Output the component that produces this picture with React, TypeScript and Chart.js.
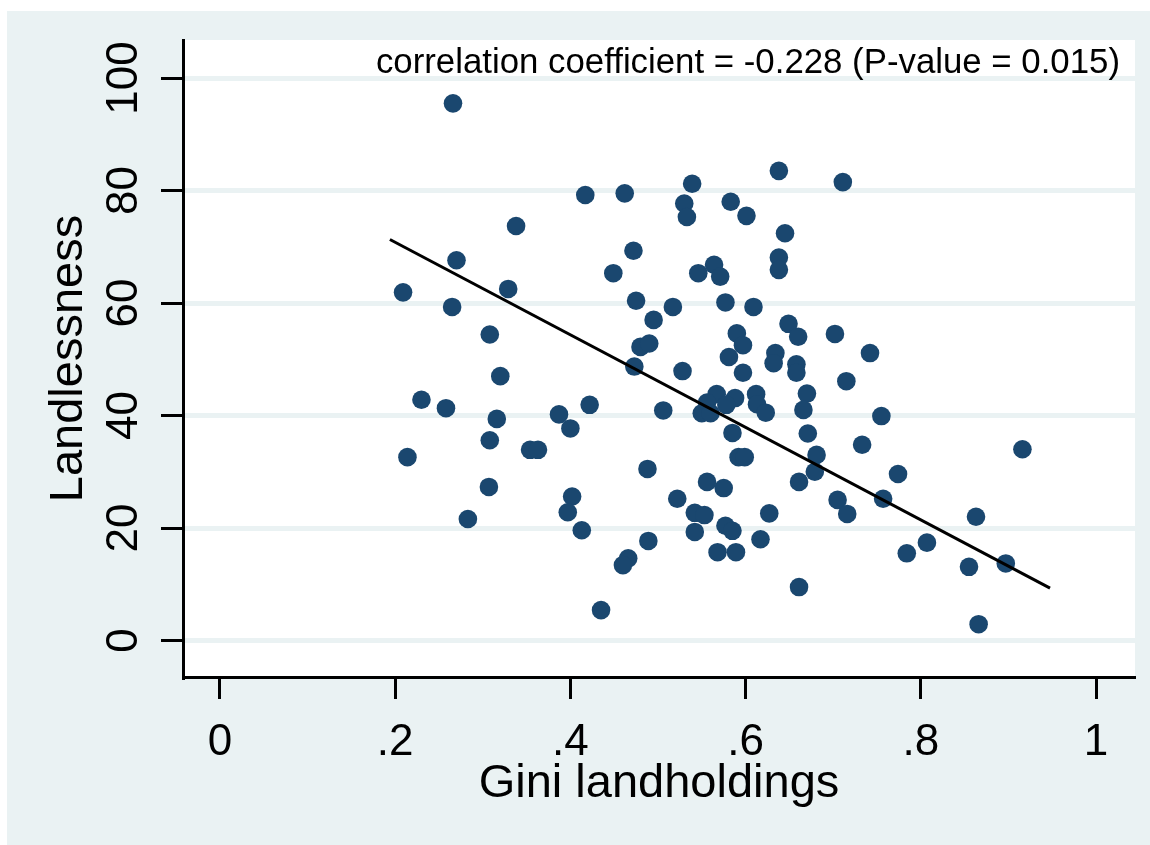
import React, { useEffect, useRef } from "react";
import { Chart, registerables } from "chart.js";

Chart.register(...registerables);

const giniX: number[] = [
  0.266, 0.338, 0.270, 0.209, 0.329, 0.265, 0.308, 0.320, 0.230, 0.258,
  0.316, 0.308, 0.214, 0.387, 0.400, 0.354, 0.363, 0.307, 0.283, 0.402,
  0.397, 0.413, 0.435, 0.417, 0.462, 0.539, 0.530, 0.533, 0.583, 0.601,
  0.638, 0.711, 0.645, 0.638, 0.638, 0.472, 0.449, 0.546, 0.564, 0.571,
  0.475, 0.517, 0.577, 0.609, 0.495, 0.590, 0.597, 0.649, 0.660, 0.702,
  0.742, 0.480, 0.490, 0.473, 0.581, 0.634, 0.632, 0.658, 0.658, 0.597,
  0.528, 0.715, 0.422, 0.506, 0.567, 0.556, 0.550, 0.560, 0.588, 0.578,
  0.612, 0.613, 0.623, 0.670, 0.666, 0.755, 0.585, 0.671, 0.733, 0.592,
  0.599, 0.681, 0.679, 0.774, 0.488, 0.661, 0.556, 0.575, 0.522, 0.705,
  0.716, 0.757, 0.542, 0.553, 0.627, 0.542, 0.577, 0.585, 0.489, 0.617,
  0.807, 0.784, 0.466, 0.460, 0.568, 0.589, 0.661, 0.916, 0.863, 0.855,
  0.897, 0.866,
];

const landlessY: number[] = [
  95.5, 73.7, 67.6, 61.9, 62.5, 59.3, 54.4, 47.0, 42.8, 41.3,
  39.4, 35.6, 32.6, 40.2, 37.7, 33.9, 33.9, 27.3, 21.6, 25.6,
  22.8, 19.6, 5.4, 79.2, 79.5, 81.2, 77.7, 75.3, 78.0, 75.5,
  83.5, 81.5, 72.4, 68.1, 65.9, 69.3, 65.3, 65.3, 66.8, 64.7,
  60.4, 59.3, 60.1, 59.3, 57.0, 54.6, 52.5, 56.3, 54.0, 54.5,
  51.1, 52.2, 52.8, 48.7, 50.4, 51.1, 49.3, 49.1, 47.6, 47.6,
  47.9, 46.1, 41.9, 40.9, 43.8, 42.3, 40.4, 40.4, 43.1, 41.9,
  43.8, 42.0, 40.5, 43.9, 41.0, 39.9, 36.9, 36.8, 34.8, 32.6,
  32.6, 33.0, 30.0, 29.6, 30.5, 28.2, 28.2, 27.1, 25.2, 25.0,
  22.5, 25.2, 22.7, 22.3, 22.6, 19.3, 20.4, 19.5, 17.7, 18.0,
  17.4, 15.5, 14.6, 13.4, 15.7, 15.7, 9.5, 34.0, 22.0, 13.1,
  13.7, 2.9,
];

// fitted line end points
const fitX: number[] = [0.194, 0.9475];
const fitY: number[] = [71.3, 9.3];

const xTickValues: number[] = [0, 0.2, 0.4, 0.6, 0.8, 1];
const xTickLabels: string[] = ["0", ".2", ".4", ".6", ".8", "1"];
const yTickValues: number[] = [0, 20, 40, 60, 80, 100];
const yTickLabels: string[] = ["0", "20", "40", "60", "80", "100"];

const annotationText = "correlation coefficient = -0.228 (P-value = 0.015)";
const xTitle = "Gini landholdings";
const yTitle = "Landlessness";

const FONT = "'Liberation Sans', Arial, sans-serif";
const BG = "#eaf2f3";
const NAVY = "#1a476f";

const W = 1143;
const H = 834;

export default function App() {
  const ref = useRef<HTMLCanvasElement | null>(null);

  useEffect(() => {
    if (!ref.current) return;

    const customText = {
      id: "customText",
      beforeDraw(chart: any) {
        const { ctx, chartArea } = chart;
        ctx.save();
        ctx.fillStyle = "#ffffff";
        ctx.fillRect(
          chartArea.left,
          chartArea.top,
          chartArea.right - chartArea.left,
          chartArea.bottom - chartArea.top
        );
        ctx.restore();
      },
      afterDraw(chart: any) {
        const { ctx, chartArea, scales } = chart;
        const xs = scales.x;
        const ys = scales.y;
        ctx.save();
        ctx.fillStyle = "#000000";
        // y tick labels, rotated
        ctx.font = `44px ${FONT}`;
        ctx.textAlign = "center";
        ctx.textBaseline = "alphabetic";
        yTickValues.forEach((v, i) => {
          const py = ys.getPixelForValue(v);
          ctx.save();
          ctx.translate(ys.right - 46, py);
          ctx.rotate(-Math.PI / 2);
          ctx.fillText(yTickLabels[i], 0, 0);
          ctx.restore();
        });
        // x tick labels
        xTickValues.forEach((v, i) => {
          const px = xs.getPixelForValue(v);
          ctx.fillText(xTickLabels[i], px, xs.top + 78);
        });
        // annotation
        ctx.font = `34.8px ${FONT}`;
        ctx.textAlign = "right";
        ctx.fillText(annotationText, chartArea.right - 15, chartArea.top + 33);
        ctx.restore();
      },
    };

    const chart = new Chart(ref.current, {
      type: "scatter",
      data: {
        datasets: [
          {
            label: "Fitted values",
            data: fitX.map((x, i) => ({ x, y: fitY[i] })),
            showLine: true,
            borderColor: "#000000",
            borderWidth: 3,
            pointRadius: 0,
            pointHoverRadius: 0,
            fill: false,
          },
          {
            label: "Landlessness",
            data: giniX.map((x, i) => ({ x, y: landlessY[i] })),
            backgroundColor: NAVY,
            borderColor: NAVY,
            borderWidth: 0,
            pointRadius: 9.3,
            pointHoverRadius: 9.3,
          },
        ],
      },
      options: {
        responsive: false,
        animation: false,
        devicePixelRatio: 1,
        layout: { padding: { top: 29, right: 15, left: 0, bottom: 0 } },
        plugins: {
          legend: { display: false },
          tooltip: { enabled: false },
        },
        scales: {
          x: {
            type: "linear",
            position: "bottom",
            min: -0.0422,
            max: 1.0445,
            afterFit: (s: any) => {
              s.height = 168;
            },
            afterBuildTicks: (s: any) => {
              s.ticks = xTickValues.map((v) => ({ value: v }));
            },
            ticks: { display: false },
            grid: {
              display: true,
              drawOnChartArea: false,
              drawTicks: true,
              tickLength: 22,
              tickColor: "#000000",
              tickWidth: 3,
            },
            border: { display: true, color: "#000000", width: 3 },
            title: {
              display: true,
              text: xTitle,
              color: "#000000",
              font: { family: FONT, size: 47 },
              padding: { top: 0, bottom: 33 },
            },
          },
          y: {
            type: "linear",
            position: "left",
            min: -6.49,
            max: 106.76,
            afterFit: (s: any) => {
              s.width = 176;
            },
            afterBuildTicks: (s: any) => {
              s.ticks = yTickValues.map((v) => ({ value: v }));
            },
            ticks: { display: false },
            grid: {
              display: true,
              drawOnChartArea: true,
              drawTicks: true,
              tickLength: 22,
              color: BG,
              lineWidth: 5,
              tickColor: "#000000",
              tickWidth: 3,
            },
            border: { display: true, color: "#000000", width: 3 },
            title: {
              display: true,
              text: yTitle,
              color: "#000000",
              font: { family: FONT, size: 47 },
              padding: { top: 33.5, bottom: 0 },
            },
          },
        },
      },
      plugins: [customText],
    } as any);

    return () => chart.destroy();
  }, []);

  return (
    <div
      style={{
        position: "absolute",
        left: 7,
        top: 11,
        width: W,
        height: H,
        background: BG,
      }}
    >
      <canvas ref={ref} width={W} height={H} style={{ display: "block" }} />
    </div>
  );
}
